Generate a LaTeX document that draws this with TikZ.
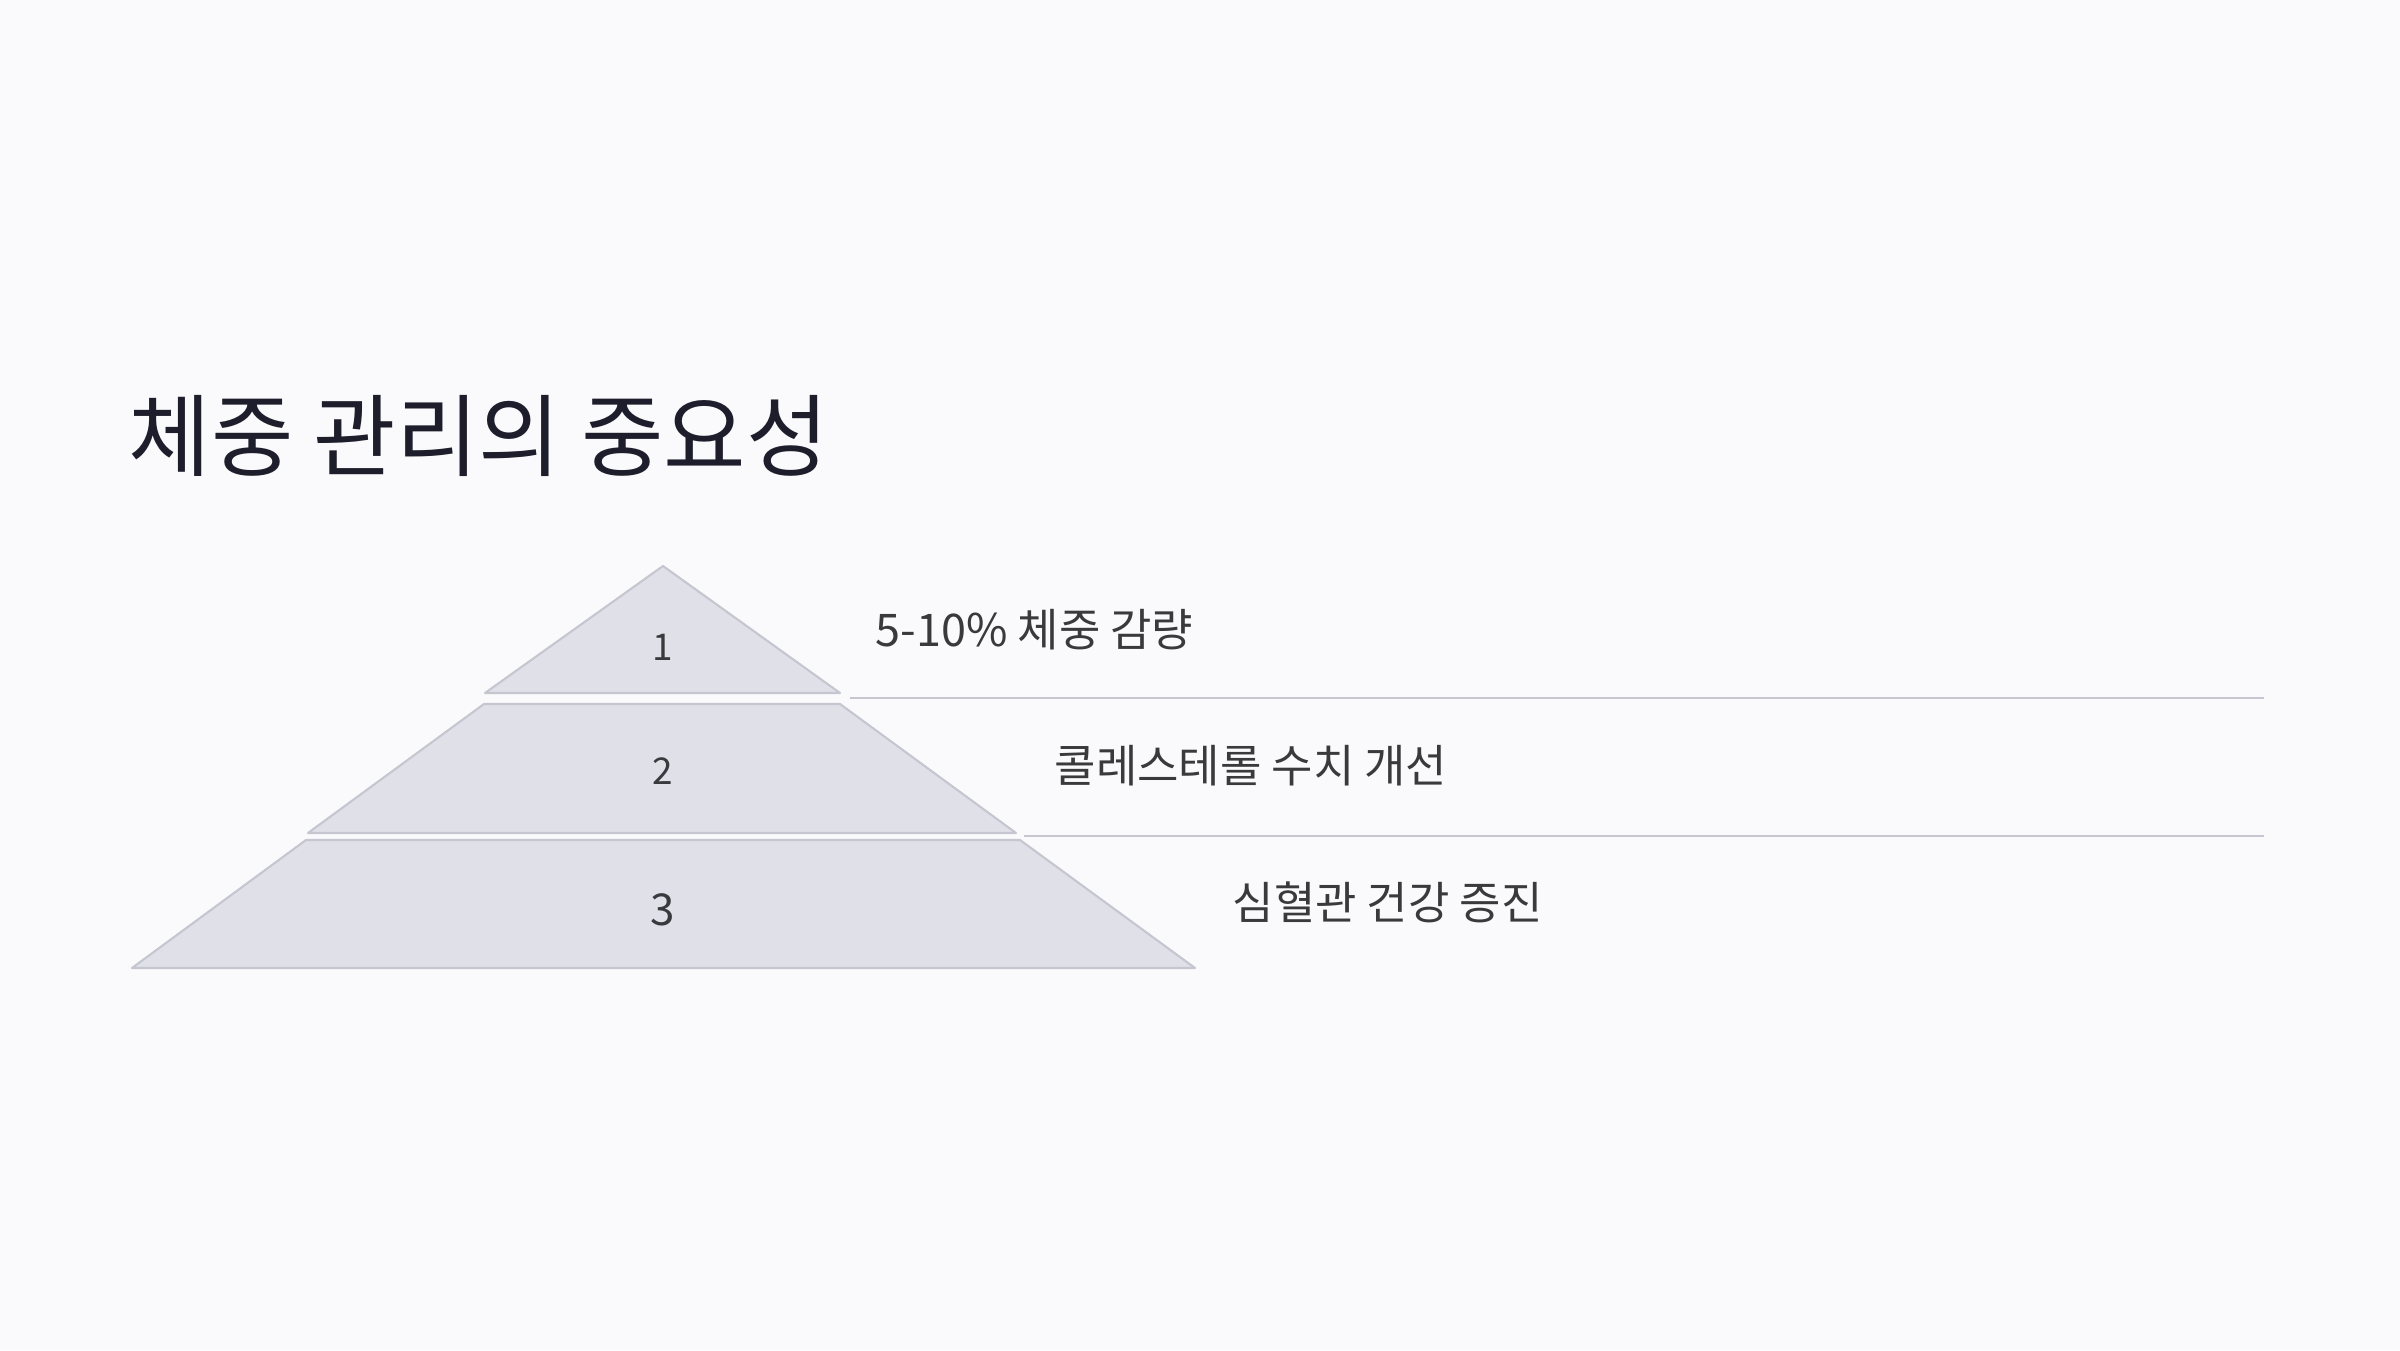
\documentclass[tikz,border=0pt]{standalone}
\usepackage{fontspec}
\setmainfont{Noto Sans CJK KR}
\definecolor{bg}{HTML}{FAFAFC}
\definecolor{tierfill}{HTML}{E0E1E8}
\definecolor{tierline}{HTML}{C6C6D0}
\definecolor{titlecol}{HTML}{1D1D2B}
\definecolor{labelcol}{HTML}{3A3A3E}
\definecolor{numcol}{HTML}{3A3A3E}
\tikzset{
  tier/.style={fill=tierfill,draw=tierline,line width=0.6pt,line join=round},
  sepline/.style={draw=tierline,line width=0.6pt},
  titletext/.style={anchor=west,inner sep=0pt,text=titlecol,font=\fontsize{25.5}{30}\selectfont},
  labeltext/.style={anchor=west,inner sep=0pt,text=labelcol,font=\fontsize{12.8}{16}\selectfont},
  numtext/.style={inner sep=0pt,text=numcol,font=\fontsize{10.5}{12}\selectfont}
}
\begin{document}
\begin{tikzpicture}[x=0.1mm,y=-0.1mm]
\fill[bg] (0,0) rectangle (2400,1350);
\useasboundingbox (0,0) rectangle (2400,1350);
% title
\node[titletext] (title) at (128,436) {체중 관리의 중요성};
% tiers
\draw[tier] (485,693) -- (663,566) -- (840,693) -- cycle;
\draw[tier] (484,704) -- (840,704) -- (1016,833) -- (308,833) -- cycle;
\draw[tier] (306,840) -- (1020,840) -- (1195,968) -- (132,968) -- cycle;
% numbers
\node[numtext] (n1) at (663,647) {1};
\node[numtext] (n2) at (663,771) {2};
\node[numtext,font=\fontsize{12.5}{14}\selectfont] (n3) at (663,910) {3};
% separator lines
\coordinate (l1a) at (850,698);
\coordinate (l1b) at (2264,698);
\coordinate (l2a) at (1024,836);
\coordinate (l2b) at (2264,836);
\draw[sepline] (l1a) -- (l1b);
\draw[sepline] (l2a) -- (l2b);
% labels
\node[labeltext] (t1) at (875,630) {5-10\% 체중 감량};
\node[labeltext] (t2) at (1054,766) {콜레스테롤 수치 개선};
\node[labeltext] (t3) at (1232,902) {심혈관 건강 증진};
\end{tikzpicture}
\end{document}
